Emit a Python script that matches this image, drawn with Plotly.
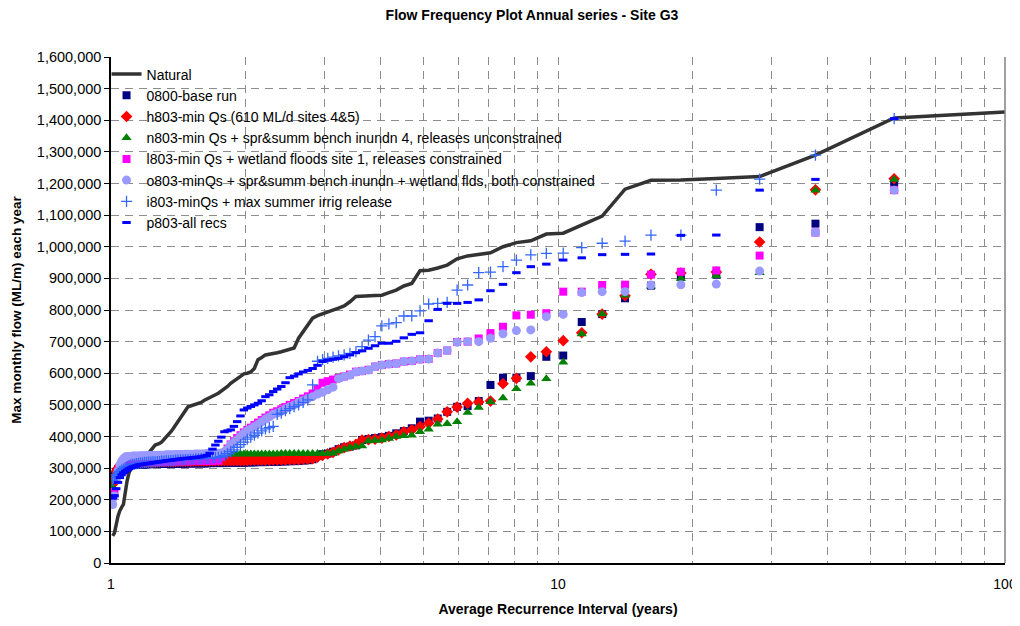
import plotly.graph_objects as go

# ---------------- data (values in thousands of ML/month, ranked largest -> smallest) -------------
N_YEARS = 112
rank = list(range(1, N_YEARS + 1))
ari = [(N_YEARS + 1) / r for r in rank]  # Weibull plotting position (years)

natural_k = [1430, 1407, 1290, 1222, 1216, 1211, 1210, 1182, 1097, 1068,
             1043, 1040, 1019, 1013, 1000, 981, 977, 971, 962, 942,
             933, 926, 924, 884, 876, 863, 855, 847, 846, 845,
             844, 843, 826, 813, 806, 800, 796, 790, 782, 774,
             752, 735, 711, 680, 675, 671, 668, 665, 662, 660,
             658, 650, 643, 615, 604, 600, 598, 590, 583, 578,
             568, 558, 550, 542, 537, 532, 528, 524, 519, 514,
             508, 505, 502, 499, 496, 494, 482, 470, 457, 444,
             435, 425, 415, 406, 398, 390, 383, 378, 375, 373,
             365, 356, 348, 343, 339, 335, 332, 326, 320, 315,
             307, 298, 285, 260, 215, 185, 176, 165, 148, 125,
             95, 86]

base_0800_k = [1220, 1205, 1073, 1062, 912, 905, 877, 837, 787, 762,
               656, 652, 591, 586, 586, 563, 512, 496, 494, 478,
               457, 450, 447, 426, 417, 410, 402, 398, 395, 392,
               389, 372, 368, 366, 360, 352, 346, 344, 338, 328,
               325, 324, 323, 322, 322, 321, 321, 320, 320, 320,
               319, 319, 319, 318, 318, 318, 317, 317, 317, 317,
               317, 317, 316, 316, 316, 316, 316, 316, 315, 315,
               315, 315, 315, 315, 315, 315, 314, 314, 314, 314,
               314, 314, 314, 314, 313, 313, 313, 313, 313, 313,
               313, 313, 312, 312, 312, 312, 312, 312, 311, 311,
               311, 310, 310, 309, 308, 306, 304, 300, 295, 288,
               275, 256]

h803_k = [1230, 1215, 1180, 1015, 920, 917, 913, 845, 787, 728,
          703, 668, 652, 584, 567, 512, 509, 505, 493, 478,
          455, 442, 431, 421, 415, 405, 400, 395, 392, 390,
          389, 375, 370, 365, 358, 350, 345, 340, 335, 330,
          328, 328, 327, 327, 327, 326, 326, 326, 326, 325,
          325, 325, 325, 325, 325, 324, 324, 324, 324, 324,
          324, 324, 324, 324, 324, 324, 324, 323, 323, 323,
          323, 323, 323, 323, 322, 322, 322, 322, 322, 322,
          322, 321, 321, 321, 321, 321, 321, 321, 320, 320,
          320, 320, 320, 320, 319, 319, 319, 319, 319, 319,
          318, 317, 317, 316, 315, 314, 312, 308, 300, 290,
          272, 250]

n803_k = [1230, 1213, 1179, 918, 908, 900, 875, 847, 787, 724,
          635, 583, 568, 551, 522, 510, 492, 476, 447, 440,
          439, 423, 415, 404, 402, 400, 394, 389, 387, 386,
          370, 368, 365, 360, 354, 347, 346, 346, 346, 346,
          346, 346, 346, 346, 346, 346, 346, 345, 345, 345,
          345, 345, 345, 345, 345, 345, 345, 345, 345, 345,
          345, 345, 345, 345, 345, 345, 345, 345, 345, 344,
          344, 344, 344, 343, 343, 343, 343, 342, 342, 342,
          342, 341, 341, 341, 341, 340, 340, 340, 340, 339,
          339, 339, 339, 338, 338, 338, 338, 337, 337, 337,
          336, 335, 333, 330, 326, 320, 313, 305, 295, 280,
          262, 240]

l803_k = [1200, 1179, 1045, 972, 925, 921, 912, 880, 879, 858,
          858, 790, 785, 783, 747, 727, 710, 700, 699, 672,
          664, 645, 644, 639, 637, 631, 629, 626, 621, 611,
          607, 605, 596, 590, 585, 580, 575, 570, 550, 536,
          527, 520, 512, 506, 500, 493, 486, 480, 475, 467,
          460, 452, 444, 436, 428, 421, 413, 404, 395, 385,
          375, 362, 348, 335, 324, 324, 324, 323, 323, 323,
          323, 323, 323, 323, 322, 322, 322, 322, 322, 322,
          322, 321, 321, 321, 321, 321, 321, 321, 320, 320,
          320, 320, 320, 320, 319, 319, 319, 319, 319, 319,
          319, 318, 318, 317, 316, 314, 310, 302, 290, 265,
          225, 210]

o803_k = [1200, 1179, 1045, 923, 882, 880, 879, 858, 858, 855,
          786, 779, 737, 735, 725, 711, 700, 700, 698, 672,
          664, 645, 644, 639, 637, 631, 629, 626, 621, 610,
          607, 604, 594, 589, 583, 556, 548, 540, 534, 526,
          520, 514, 508, 500, 494, 488, 480, 474, 470, 462,
          455, 447, 438, 431, 424, 418, 410, 400, 390, 382,
          374, 360, 352, 348, 347, 347, 346, 346, 346, 345,
          345, 345, 345, 344, 344, 344, 344, 343, 343, 343,
          343, 342, 342, 342, 342, 341, 341, 341, 341, 340,
          340, 340, 340, 339, 339, 339, 339, 338, 338, 338,
          338, 337, 337, 337, 335, 330, 322, 310, 290, 265,
          212, 185]

i803_k = [1430, 1405, 1290, 1214, 1179, 1037, 1037, 1018, 1011, 997,
          980, 979, 974, 958, 937, 920, 918, 879, 863, 824,
          821, 819, 797, 781, 781, 760, 756, 750, 716, 705,
          684, 668, 663, 658, 655, 651, 647, 643, 638, 563,
          516, 508, 500, 494, 488, 482, 474, 470, 432, 428,
          424, 418, 411, 404, 398, 392, 382, 374, 366, 358,
          352, 346, 340, 336, 334, 333, 332, 331, 331, 330,
          330, 329, 329, 328, 328, 327, 327, 326, 326, 325,
          325, 324, 324, 323, 323, 322, 322, 321, 321, 320,
          320, 319, 319, 318, 318, 317, 316, 315, 314, 313,
          312, 310, 308, 305, 302, 298, 294, 290, 285, 279,
          272, 262]

p803_k = [1420, 1405, 1213, 1179, 1037, 1036, 977, 976, 975, 965,
          958, 945, 937, 918, 881, 861, 832, 824, 821, 821,
          802, 766, 728, 723, 712, 701, 695, 695, 687, 679,
          671, 665, 658, 652, 647, 644, 641, 637, 625, 615,
          609, 604, 598, 591, 586, 570, 558, 550, 542, 532,
          526, 513, 505, 500, 495, 490, 484, 465, 447, 432,
          421, 418, 415, 398, 385, 373, 360, 347, 340, 338,
          336, 335, 334, 333, 332, 331, 331, 330, 329, 328,
          327, 326, 325, 324, 323, 322, 321, 320, 319, 318,
          317, 316, 315, 314, 313, 312, 311, 310, 308, 306,
          304, 301, 298, 294, 290, 285, 279, 270, 255, 235,
          213, 205]

series_names = ["0800-base run",
                "h803-min Qs (610 ML/d sites 4&5)",
                "n803-min Qs + spr&summ bench inundn 4, releases unconstrained",
                "l803-min Qs + wetland floods site 1, releases constrained",
                "o803-minQs + spr&summ bench inundn + wetland flds, both constrained",
                "i803-minQs + max summer irrig release",
                "p803-all recs"]
series_values = [base_0800_k, h803_k, n803_k, l803_k, o803_k, i803_k, p803_k]

x_tick_vals = [1, 2, 3, 4, 5, 6, 7, 8, 9, 10, 20, 30, 40, 50, 60, 70, 80, 90, 100]
x_tick_text = ["1", "", "", "", "", "", "", "", "", "10", "", "", "", "", "", "", "", "", "100"]

# ---------------- styles ----------------
marker_styles = [
    dict(symbol="square", size=8, color="#000080"),
    dict(symbol="diamond", size=9, color="#FF0000"),
    dict(symbol="triangle-up", size=9, color="#008000"),
    dict(symbol="square", size=8, color="#FF00FF"),
    dict(symbol="circle", size=9, color="#9999FF"),
    dict(symbol="cross-thin", size=8, color="#3366FF", line=dict(width=1.3, color="#3366FF")),
    dict(symbol="line-ew", size=6, color="#0000FF", line=dict(width=3, color="#0000FF")),
]

FONT = "Arial, Liberation Sans, sans-serif"

fig = go.Figure()
fig.add_trace(go.Scatter(
    x=ari, y=[v * 1000 for v in natural_k], mode="lines", name="Natural",
    line=dict(color="#333333", width=3.5)))

for name, vals, ms in zip(series_names, series_values, marker_styles):
    fig.add_trace(go.Scatter(
        x=ari, y=[v * 1000 for v in vals], mode="markers", name=name,
        marker=ms))

# the page body adds an 8px offset; margins compensate so the plot area lands at
# x 111..1005, y 57..563 in the browser window
grid_color = "#8c8c8c"
fig.update_layout(
    width=1020, height=626,
    margin=dict(l=103, r=23, t=49, b=71, autoexpand=False),
    paper_bgcolor="white", plot_bgcolor="white",
    font=dict(family=FONT, size=14, color="black"),
    title=dict(text="<b>Flow Frequency Plot Annual series - Site G3</b>",
               x=0.5137, xref="container", xanchor="center",
               y=0.988, yref="container", yanchor="middle",
               font=dict(size=14, family=FONT)),
    legend=dict(x=-0.005, y=0.997, xanchor="left", yanchor="top",
                bgcolor="rgba(0,0,0,0)", font=dict(size=14, family=FONT),
                itemwidth=30, tracegroupgap=0),
    xaxis=dict(type="log", range=[0, 2], automargin=False,
               tickvals=x_tick_vals, ticktext=x_tick_text,
               showgrid=True, gridcolor=grid_color, griddash="8px,6px", gridwidth=1,
               showline=True, linecolor="black", linewidth=1.5,
               ticks="", zeroline=False, ticklabelstandoff=7,
               tickfont=dict(size=14),
               title=dict(text="<b>Average Recurrence Interval (years)</b>",
                          font=dict(size=14), standoff=14)),
    yaxis=dict(range=[0, 1600000], dtick=100000, tickformat=",", automargin=False,
               showgrid=True, gridcolor=grid_color, griddash="8px,6px", gridwidth=1,
               showline=True, linecolor="black", linewidth=1.5,
               ticks="outside", ticklen=5, tickcolor="black",
               zeroline=False, tickfont=dict(size=14.5),
               title=dict(text="<b>Max monthly flow (ML/m) each year</b>",
                          font=dict(size=13.5), standoff=12)),
)
# right-hand plot border
fig.add_shape(type="line", xref="paper", yref="paper", x0=1, x1=1, y0=0, y1=1,
              line=dict(color="#808080", width=1.5))

fig.write_html("out.html")
